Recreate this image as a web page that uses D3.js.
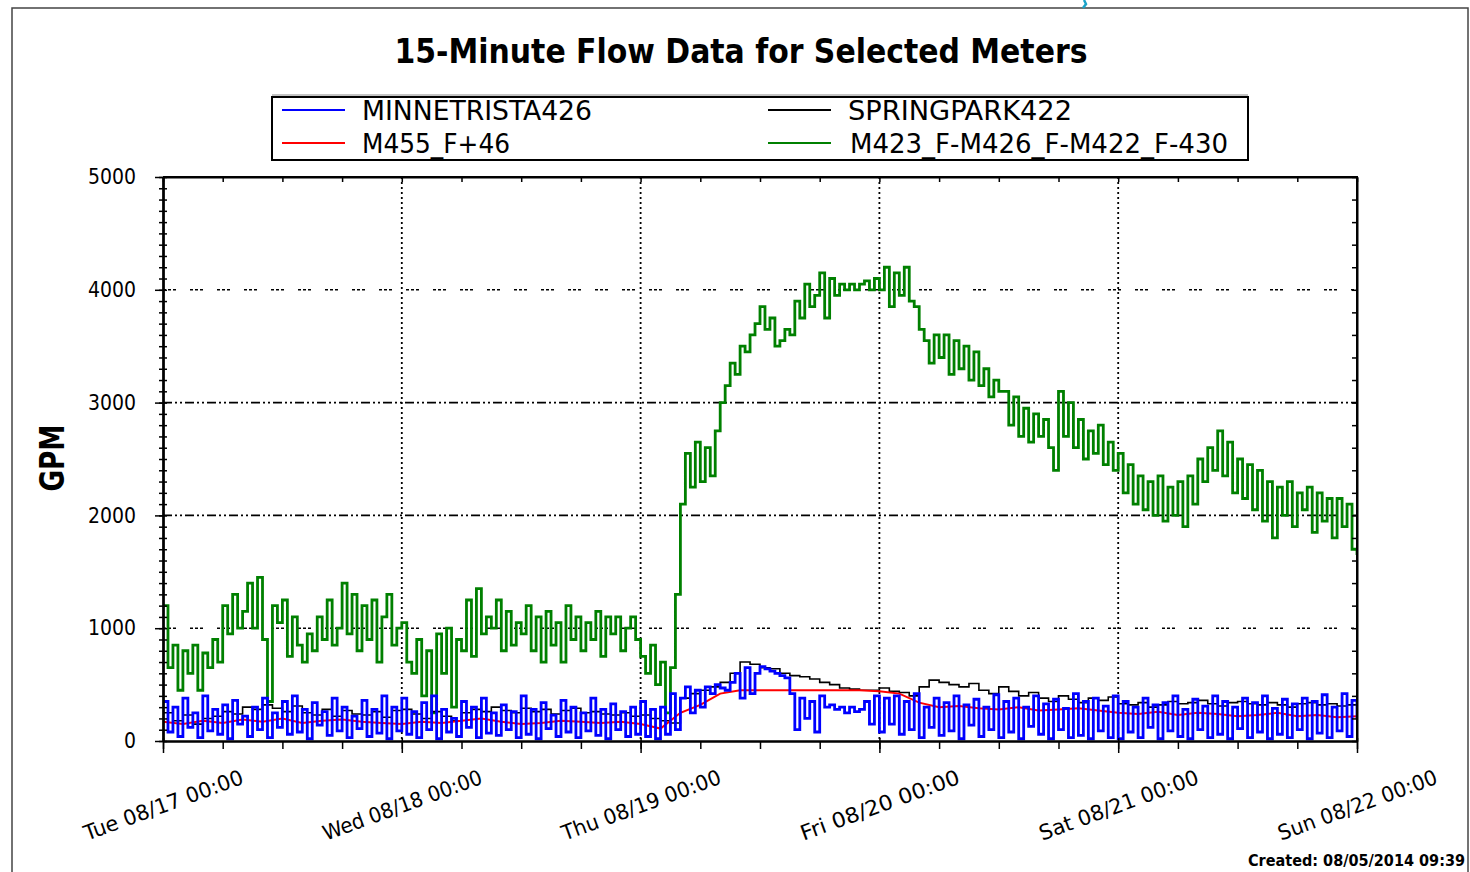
<!DOCTYPE html>
<html>
<head>
<meta charset="utf-8">
<script src="https://d3js.org/d3.v7.min.js"></script>
<style>
body { margin: 0; background: #ffffff; }
text { font-family: "Liberation Sans Narrow", "DejaVu Sans Condensed", "Liberation Sans", Arial, sans-serif; }
</style>
</head>
<body>
<div id="plot"></div>
<script>
var width = 1470;
var height = 872;

// time span of the chart
var start_time = new Date(2010, 7, 17, 0, 0);
var end_time = new Date(2010, 7, 22, 0, 0);

var y_ticks = [0, 1000, 2000, 3000, 4000, 5000];
var series_names = ['MINNETRISTA426', 'SPRINGPARK422', 'M455_F+46', 'M423_F-M426_F-M422_F-430'];

// MINNETRISTA426, one value every 30 minutes
var minnetrista_step = 30;
var minnetrista426 = [
    350, 80, 300, 40, 380, 120, 250, 30, 400, 90, 280, 60, 320, 20, 360, 150, 220, 40, 300, 100, 380, 30, 250, 120,
    350, 60, 400, 80, 280, 20, 340, 140, 260, 50, 380, 90, 300, 30, 220, 110, 360, 40, 280, 70, 400, 20, 300, 90,
    380, 60, 260, 30, 340, 100, 400, 20, 280, 80, 200, 40, 350, 120, 300, 30, 380, 70, 250, 50, 320, 100, 260, 30,
    400, 60, 280, 20, 340, 110, 230, 40, 360, 80, 300, 30, 250, 90, 380, 50, 280, 20, 330, 100, 260, 40, 300, 60,
    350, 40, 280, 20, 300, 60, 420, 100, 380, 480, 250, 450, 300, 480, 420, 500, 470, 450, 520, 600, 380, 650, 420, 600,
    660, 640, 620, 600, 580, 560, 420, 100, 380, 200, 350, 80, 400, 300, 320, 280, 300, 250, 300, 260, 280, 350, 150, 400,
    80, 380, 150, 400, 60, 350, 100, 420, 30, 300, 120, 380, 50, 340, 90, 400, 20, 320, 140, 370, 40, 300, 100, 410,
    30, 350, 80, 380, 20, 300, 130, 400, 60, 330, 20, 370, 100, 290, 30, 420, 50, 350, 20, 380, 90, 310, 30, 400,
    20, 350, 80, 300, 30, 380, 120, 320, 20, 340, 90, 400, 40, 280, 20, 370, 100, 310, 30, 400, 60, 350, 20, 300,
    110, 380, 30, 340, 80, 400, 20, 290, 60, 370, 30, 330, 100, 380, 20, 350, 70, 410, 30, 300, 90, 420, 40, 360, 200
];

// SPRINGPARK422, hourly
var springpark_step = 60;
var springpark422 = [
    250, 180, 230, 150, 200, 220, 260, 240, 300, 280, 320, 290, 260, 310, 250, 230, 280, 220, 270, 240, 230, 260, 210, 270,
    280, 240, 200, 260, 220, 180, 250, 280, 260, 300, 270, 250, 290, 260, 280, 240, 270, 290, 250, 260, 240, 230, 250, 220,
    230, 200, 180, 160, 380, 420, 450, 480, 520, 600, 700, 680, 650, 640, 600, 580, 570, 550, 520, 500, 470, 460, 450, 450,
    470, 440, 430, 400, 480, 540, 520, 500, 480, 510, 450, 420, 480, 440, 400, 430, 380, 350, 400, 370, 340, 380, 360, 390,
    330, 320, 340, 300, 320, 350, 330, 340, 360, 330, 310, 340, 350, 330, 320, 340, 320, 300, 330, 340, 320, 330, 310, 320, 320
];

// M455_F+46, every 2 hours
var m455_step = 120;
var m455 = [
    170, 150, 180, 160, 190, 170, 200, 160, 180, 190, 170, 160,
    150, 170, 160, 180, 200, 170, 150, 160, 180, 170, 160, 170,
    150, 110, 250, 320, 420, 450, 450, 450, 450, 450, 450, 450,
    440, 420, 340, 300, 310, 290, 280, 300, 270, 280, 290, 270,
    250, 240, 260, 230, 250, 240, 220, 230, 250, 220, 230, 210, 220
];

// M423_F-M426_F-M422_F-430, every 30 minutes
var m423_step = 30;
var m423 = [
    1200, 650, 850, 450, 800, 600, 850, 450, 780, 650, 900, 700, 1200, 950, 1300, 1000, 1150, 1400, 1000, 1450, 900, 350, 1200, 1050,
    1250, 750, 1100, 850, 700, 950, 800, 1100, 900, 1250, 850, 1000, 1400, 950, 1300, 800, 1200, 900, 1250, 700, 1100, 1300, 850, 1000,
    1050, 700, 600, 900, 400, 800, 250, 950, 600, 1000, 300, 900, 800, 1250, 750, 1350, 950, 1100, 1000, 1250, 800, 1150, 850, 1050,
    950, 1200, 800, 1100, 700, 1150, 850, 1050, 700, 1200, 900, 1100, 800, 1050, 900, 1150, 750, 1100, 950, 1100, 800, 1000, 1100, 900,
    750, 600, 850, 500, 700, 250, 650, 1300, 2100, 2550, 2250, 2650, 2300, 2600, 2350, 2750, 3000, 3150, 3350, 3250, 3500, 3450, 3600, 3700,
    3850, 3650, 3750, 3500, 3550, 3650, 3600, 3900, 3750, 4050, 3850, 3950, 4150, 3750, 4100, 3950, 4050, 4000, 4050, 4000, 4050, 4080, 4000, 4100,
    4000, 4200, 3850, 4150, 3950, 4200, 3900, 3850, 3650, 3550, 3350, 3600, 3400, 3600, 3250, 3550, 3300, 3500, 3200, 3450, 3150, 3300, 3050, 3200,
    3100, 3100, 2800, 3050, 2700, 2950, 2650, 2900, 2700, 2850, 2600, 2400, 3100, 2700, 3000, 2600, 2850, 2500, 2750, 2550, 2800, 2450, 2650, 2400,
    2550, 2200, 2450, 2100, 2350, 2050, 2300, 2000, 2350, 1950, 2250, 2000, 2300, 1900, 2350, 2100, 2500, 2300, 2600, 2400, 2750, 2350, 2650, 2200,
    2500, 2150, 2450, 2050, 2400, 1950, 2300, 1800, 2250, 2000, 2300, 1900, 2200, 2050, 2250, 1850, 2200, 1950, 2150, 1800, 2150, 1900, 2100, 1700, 1650
];

var canvas = d3.select('#plot')
    .append('svg')
    .attr('width', width)
    .attr('height', height);

var plot_left = 163, plot_right = 1357, plot_top = 177, plot_bottom = 741;

var x_scale = d3.scaleTime()
    .domain([start_time, end_time])
    .range([plot_left, plot_right]);

var y_scale = d3.scaleLinear()
    .domain([0, 5000])
    .range([plot_bottom, plot_top]);

// outer frame
canvas.append('rect')
    .attr('x', 12).attr('y', 8)
    .attr('width', 1456).attr('height', 900)
    .attr('fill', 'none')
    .attr('stroke', '#444444')
    .attr('stroke-width', 1.5);
canvas.append('path')
    .attr('d', 'M1084,0 L1086,4 L1083,8')
    .attr('fill', 'none')
    .attr('stroke', '#1aa3c8')
    .attr('stroke-width', 2.5);

// title
canvas.append('text')
    .attr('x', 741)
    .attr('y', 63)
    .attr('text-anchor', 'middle')
    .attr('font-size', 34)
    .attr('font-weight', 'bold')
    .attr('textLength', 693)
    .attr('lengthAdjust', 'spacingAndGlyphs')
    .text('15-Minute Flow Data for Selected Meters');

// legend
var legend_items = [
    { name: series_names[0], color: '#0000ff', x: 282, y: 110, tx: 362, len: 230 },
    { name: series_names[1], color: '#000000', x: 768, y: 110, tx: 848, len: 224 },
    { name: series_names[2], color: '#ff0000', x: 282, y: 143, tx: 362, len: 148 },
    { name: series_names[3], color: '#008000', x: 768, y: 143, tx: 850, len: 378 }
];
canvas.append('rect')
    .attr('x', 272).attr('y', 97)
    .attr('width', 976).attr('height', 63)
    .attr('fill', '#ffffff')
    .attr('stroke', '#000000')
    .attr('stroke-width', 2);
canvas.append('line')
    .attr('x1', 272).attr('x2', 1248)
    .attr('y1', 95).attr('y2', 95)
    .attr('stroke', '#888888')
    .attr('stroke-width', 1);
var legend = canvas.selectAll('g.legend')
    .data(legend_items)
    .enter()
    .append('g')
    .attr('class', 'legend');
legend.append('line')
    .attr('x1', function(d) { return d.x; })
    .attr('x2', function(d) { return d.x + 63; })
    .attr('y1', function(d) { return d.y; })
    .attr('y2', function(d) { return d.y; })
    .attr('stroke', function(d) { return d.color; })
    .attr('stroke-width', 2);
legend.append('text')
    .attr('x', function(d) { return d.tx; })
    .attr('y', function(d) { return d.y + 10; })
    .attr('font-size', 27)
    .attr('textLength', function(d) { return d.len; })
    .attr('lengthAdjust', 'spacingAndGlyphs')
    .text(function(d) { return d.name; });

// grid lines
canvas.selectAll('line.hgrid')
    .data(y_ticks.filter(function(d) { return d > 0 && d < 5000; }))
    .enter()
    .append('line')
    .attr('class', 'hgrid')
    .attr('x1', plot_left).attr('x2', plot_right)
    .attr('y1', function(d) { return y_scale(d); })
    .attr('y2', function(d) { return y_scale(d); })
    .attr('stroke', '#000000')
    .attr('stroke-width', 1.6)
    .attr('stroke-dasharray', function(d) { return (d === 2000 || d === 3000) ? '9,3,2,3,2,3' : '3,2,3,2,3,14'; });

// one minute past the end so the last tick is kept
var range_end = d3.timeMinute.offset(end_time, 1);
var day_ticks = d3.timeDay.range(start_time, range_end);
canvas.selectAll('line.vgrid')
    .data(day_ticks.slice(1, -1))
    .enter()
    .append('line')
    .attr('class', 'vgrid')
    .attr('x1', function(d) { return x_scale(d); })
    .attr('x2', function(d) { return x_scale(d); })
    .attr('y1', plot_top).attr('y2', plot_bottom)
    .attr('stroke', '#000000')
    .attr('stroke-width', 1.8)
    .attr('stroke-dasharray', '2,3');

// series
canvas.append('clipPath')
    .attr('id', 'plot-clip')
    .append('rect')
    .attr('x', plot_left).attr('y', plot_top)
    .attr('width', plot_right - plot_left).attr('height', plot_bottom - plot_top);

function series_line(step, curve) {
    return d3.line()
        .curve(curve)
        .x(function(d, i) { return x_scale(d3.timeMinute.offset(start_time, i * step)); })
        .y(function(d) { return y_scale(d); });
}

var series = [
    { values: m423, step: m423_step, color: '#008000', w: 2.8, curve: d3.curveStepAfter },
    { values: springpark422, step: springpark_step, color: '#000000', w: 1.6, curve: d3.curveStepAfter },
    { values: m455, step: m455_step, color: '#ff0000', w: 2, curve: d3.curveLinear },
    { values: minnetrista426, step: minnetrista_step, color: '#0000ff', w: 2.8, curve: d3.curveStepAfter }
];
canvas.append('g')
    .attr('clip-path', 'url(#plot-clip)')
    .selectAll('path.series')
    .data(series)
    .enter()
    .append('path')
    .attr('class', 'series')
    .attr('fill', 'none')
    .attr('stroke', function(d) { return d.color; })
    .attr('stroke-width', function(d) { return d.w; })
    .attr('d', function(d) { return series_line(d.step, d.curve)(d.values); });

// plot frame (top and right)
canvas.append('path')
    .attr('d', 'M' + plot_left + ',' + plot_top + 'H' + plot_right + 'V' + plot_bottom)
    .attr('fill', 'none')
    .attr('stroke', '#000000')
    .attr('stroke-width', 2);

// minor ticks
var six_hours = d3.timeHour.every(6).range(start_time, range_end);
var hundreds = d3.range(0, 5001, 100);
var two_hundreds = d3.range(0, 5001, 200);

function style_axis(g) {
    g.selectAll('path.domain').attr('stroke-width', 2);
    g.selectAll('.tick line').attr('stroke-width', 1.5);
}

canvas.append('g')
    .attr('transform', 'translate(' + plot_left + ',0)')
    .call(d3.axisLeft(y_scale).tickValues(hundreds).tickSize(4).tickSizeOuter(0).tickFormat(''))
    .call(style_axis);
canvas.append('g')
    .attr('transform', 'translate(' + plot_left + ',0)')
    .call(d3.axisRight(y_scale).tickValues(hundreds).tickSize(4).tickSizeOuter(0).tickFormat(''))
    .call(style_axis);
canvas.append('g')
    .attr('transform', 'translate(' + plot_right + ',0)')
    .call(d3.axisLeft(y_scale).tickValues(two_hundreds).tickSize(5).tickSizeOuter(0).tickFormat(''))
    .call(style_axis);
canvas.append('g')
    .attr('transform', 'translate(0,' + plot_top + ')')
    .call(d3.axisBottom(x_scale).tickValues(six_hours).tickSize(5).tickSizeOuter(0).tickFormat(''))
    .call(style_axis);
canvas.append('g')
    .attr('transform', 'translate(0,' + plot_bottom + ')')
    .call(d3.axisBottom(x_scale).tickValues(six_hours).tickSize(8).tickSizeOuter(0).tickFormat(''))
    .call(style_axis);

// y axis
var y_axis = canvas.append('g')
    .attr('transform', 'translate(' + plot_left + ',0)')
    .call(d3.axisLeft(y_scale).tickValues(y_ticks).tickSize(8).tickSizeOuter(0).tickPadding(19).tickFormat(d3.format('d')))
    .call(style_axis);
y_axis.selectAll('text')
    .attr('font-size', 21)
    .attr('font-family', null)
    .attr('fill', '#000000')
    .attr('textLength', function(d) { return d === 0 ? 12 : 48; })
    .attr('lengthAdjust', 'spacingAndGlyphs');

// x axis
var x_format = d3.timeFormat('%a %m/%d %H:%M');
var x_axis = canvas.append('g')
    .attr('transform', 'translate(0,' + plot_bottom + ')')
    .call(d3.axisBottom(x_scale).tickValues(day_ticks).tickSize(12).tickSizeOuter(0).tickFormat(x_format))
    .call(style_axis);
x_axis.selectAll('.tick line').attr('y1', -3);
x_axis.selectAll('text')
    .attr('y', 0)
    .attr('dy', '0.35em')
    .attr('transform', 'translate(0,64) rotate(-20)')
    .attr('text-anchor', 'middle')
    .attr('font-size', 21)
    .attr('fill', '#000000')
    .attr('textLength', 168)
    .attr('lengthAdjust', 'spacingAndGlyphs');

// y axis title
canvas.append('text')
    .attr('transform', 'translate(64,458) rotate(-90)')
    .attr('text-anchor', 'middle')
    .attr('font-size', 34)
    .attr('font-weight', 'bold')
    .attr('textLength', 67)
    .attr('lengthAdjust', 'spacingAndGlyphs')
    .text('GPM');

// created stamp
canvas.append('text')
    .attr('x', 1248)
    .attr('y', 866)
    .attr('font-size', 16)
    .attr('font-weight', 'bold')
    .attr('textLength', 217)
    .attr('lengthAdjust', 'spacingAndGlyphs')
    .text('Created: 08/05/2014 09:39');
</script>
</body>
</html>
